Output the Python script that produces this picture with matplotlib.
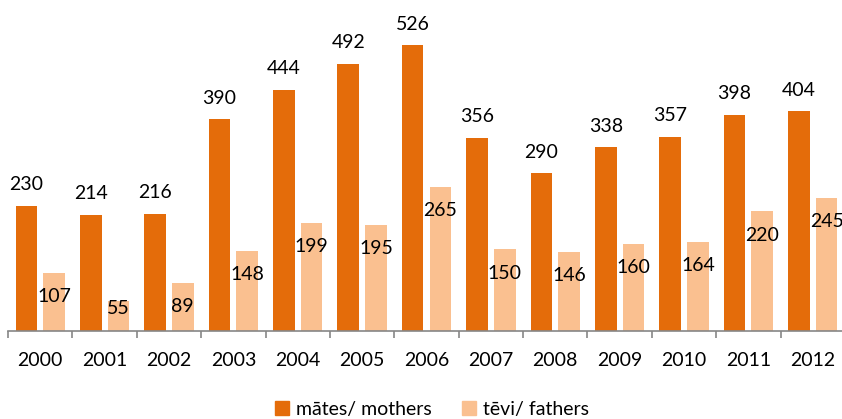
import matplotlib
matplotlib.use("Agg")
import matplotlib.pyplot as plt
import numpy as np
from matplotlib.patches import Patch

years = ["2000", "2001", "2002", "2003", "2004", "2005", "2006",
         "2007", "2008", "2009", "2010", "2011", "2012"]
mothers = [230, 214, 216, 390, 444, 492, 526, 356, 290, 338, 357, 398, 404]
fathers = [107, 55, 89, 148, 199, 195, 265, 150, 146, 160, 164, 220, 245]

c_m = "#E46C0A"
c_f = "#FAC090"

plt.rcParams['font.family'] = ['Lato', 'DejaVu Sans']
FS = 14

W, H = 842, 419
fig = plt.figure(figsize=(W / 100, H / 100), dpi=100)
ax = fig.add_axes([8 / W, 88 / H, 837 / W, 331 / H])

x = np.arange(len(years))
bw = 0.335
off = 0.215
bm = ax.bar(x - off, mothers, bw, color=c_m, zorder=2)
bf = ax.bar(x + off, fathers, bw, color=c_f, zorder=2)

ax.set_xlim(-0.5, len(years) - 0.5)
ax.set_ylim(0, 609)

for xi, v in zip(x, mothers):
    ax.annotate(str(v), (xi - off, v), xytext=(0, 21 * 0.72), textcoords="offset points",
                ha="center", va="center", fontsize=FS, color="black")
for xi, v in zip(x, fathers):
    y = max(v - 44, 42)
    ax.text(xi + off, y, str(v), ha="center", va="center", fontsize=FS, color="black")

for s in ["top", "right", "left"]:
    ax.spines[s].set_visible(False)
ax.spines["bottom"].set_color("#868686")
ax.spines["bottom"].set_linewidth(1.2)
ax.set_yticks([])
ax.set_xticks(np.arange(-0.5, len(years) + 0.5, 1.0))
ax.set_xticklabels([])
ax.tick_params(axis="x", length=5, width=1.2, color="#868686")
ax.set_xticks(x, minor=True)
ax.set_xticklabels(years, minor=True, fontsize=FS)
ax.tick_params(axis="x", which="minor", length=0, pad=15)

handles = [Patch(color=c_m, label="mātes/ mothers"), Patch(color=c_f, label="tēvi/ fathers")]
fig.legend(handles=handles, loc="center", bbox_to_anchor=(432 / W, 1 - 409 / H), ncol=2,
           frameon=False, fontsize=FS, handlelength=0.7, handleheight=0.7,
           handletextpad=0.35, columnspacing=1.6)

fig.savefig("out.png", dpi=100)
